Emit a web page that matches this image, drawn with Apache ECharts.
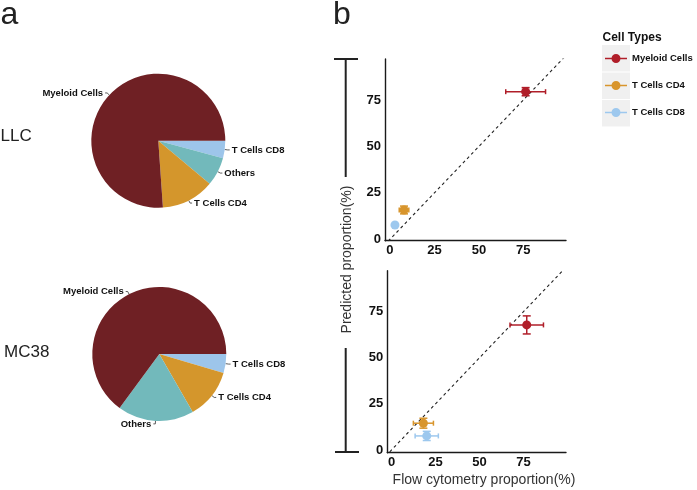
<!DOCTYPE html>
<html>
<head>
<meta charset="utf-8">
<script src="https://cdn.jsdelivr.net/npm/echarts@6/dist/echarts.min.js"></script>
<style>
  html, body { margin: 0; padding: 0; background: #fff; }
  #chart { width: 697px; height: 490px; }
</style>
</head>
<body>
<div id="chart"></div>
<script>
// ---- Panel a: pie data ----
const pieCategoriesLLC = ['T Cells CD8', 'Others', 'T Cells CD4', 'Myeloid Cells'];
const pieValuesLLC = [4.2, 6.9, 12.8, 76.1];
const pieCategoriesMC38 = ['T Cells CD8', 'T Cells CD4', 'Others', 'Myeloid Cells'];
const pieValuesMC38 = [4.6, 12.1, 18.4, 64.9];

// ---- Panel b: scatter data ----
const cellTypes = ['Myeloid Cells', 'T Cells CD4', 'T Cells CD8'];
const llcFlowX = [76.3, 7.9, 2.8];
const llcPredY = [79.5, 15.8, 7.7];
const llcXErr = [11.2, 2.7, 0];
const llcYErr = [2.2, 2.1, 0];
const mc38FlowX = [76.8, 18.1, 20.0];
const mc38PredY = [67.8, 14.5, 7.6];
const mc38XErr = [9.5, 5.7, 6.6];
const mc38YErr = [4.9, 2.7, 2.5];
const tickValues = [0, 25, 50, 75];
const diagonal = [-1, 99];

const FONT = 'Liberation Sans, Arial, Helvetica, sans-serif';
const pieColors = {
  'Myeloid Cells': '#6F2024',
  'T Cells CD4': '#D4962C',
  'Others': '#72B9BB',
  'T Cells CD8': '#9DC5EA'
};
const pointColors = ['#B01E29', '#D8952C', '#9DC8EE'];

function pieSeries(cats, vals, center) {
  return {
    type: 'pie',
    center: center,
    radius: 67,
    startAngle: 0,
    clockwise: true,
    avoidLabelOverlap: false,
    silent: true,
    data: cats.map((c, i) => ({ name: c, value: vals[i], itemStyle: { color: pieColors[c] } })),
    label: {
      position: 'outside',
      fontSize: 9.5,
      fontWeight: 'bold',
      color: '#111',
      fontFamily: FONT,
      distanceToLabelLine: 2
    },
    labelLine: { show: true, length: 3, length2: 2, smooth: false, lineStyle: { color: '#333', width: 0.8 } },
    emphasis: { disabled: true }
  };
}

function errorRender(params, api) {
  const x = api.value(0), y = api.value(1), ex = api.value(2), ey = api.value(3);
  const color = api.visual('color');
  const children = [];
  const style = { stroke: color, lineWidth: 1.5, fill: null };
  if (ex > 0) {
    const l = api.coord([x - ex, y]);
    const r = api.coord([x + ex, y]);
    children.push({ type: 'line', shape: { x1: l[0], y1: l[1], x2: r[0], y2: r[1] }, style });
    children.push({ type: 'line', shape: { x1: l[0], y1: l[1] - 2.5, x2: l[0], y2: l[1] + 2.5 }, style });
    children.push({ type: 'line', shape: { x1: r[0], y1: r[1] - 2.5, x2: r[0], y2: r[1] + 2.5 }, style });
  }
  if (ey > 0) {
    const t = api.coord([x, y + ey]);
    const b = api.coord([x, y - ey]);
    children.push({ type: 'line', shape: { x1: t[0], y1: t[1], x2: b[0], y2: b[1] }, style });
    children.push({ type: 'line', shape: { x1: t[0] - 4, y1: t[1], x2: t[0] + 4, y2: t[1] }, style });
    children.push({ type: 'line', shape: { x1: b[0] - 4, y1: b[1], x2: b[0] + 4, y2: b[1] }, style });
  }
  return { type: 'group', children };
}

const series = [
  pieSeries(pieCategoriesLLC, pieValuesLLC, [158.3, 140.7]),
  pieSeries(pieCategoriesMC38, pieValuesMC38, [159.3, 354])
];

// scatter points first (legend takes style from first series by name)
[[llcFlowX, llcPredY, 0], [mc38FlowX, mc38PredY, 1]].forEach(([xs, ys, g]) => {
  cellTypes.forEach((name, i) => {
    series.push({
      type: 'scatter', name, xAxisIndex: g, yAxisIndex: g,
      symbol: 'circle', symbolSize: 9, z: 5, silent: true,
      itemStyle: { color: pointColors[i], opacity: 1 },
      data: [[xs[i], ys[i]]]
    });
  });
});
[[llcFlowX, llcPredY, llcXErr, llcYErr, 0], [mc38FlowX, mc38PredY, mc38XErr, mc38YErr, 1]].forEach(([xs, ys, exs, eys, g]) => {
  cellTypes.forEach((name, i) => {
    series.push({
      type: 'custom', name, xAxisIndex: g, yAxisIndex: g, z: 4, silent: true,
      itemStyle: { color: pointColors[i] },
      renderItem: errorRender,
      encode: { x: 0, y: 1 },
      data: [[xs[i], ys[i], exs[i], eys[i]]]
    });
  });
});
[0, 1].forEach(g => {
  series.push({
    type: 'line', xAxisIndex: g, yAxisIndex: g, silent: true, symbol: 'none', z: 3,
    lineStyle: { color: '#222', width: 1.1, type: [3, 3] },
    data: [[diagonal[0], diagonal[0]], [diagonal[1], diagonal[1]]]
  });
});

function valueAxis(g, min, max, isX) {
  return {
    type: 'value', gridIndex: g, min, max,
    axisLine: { show: true, onZero: false, lineStyle: { color: '#1a1a1a', width: 1.4 } },
    axisTick: { show: false },
    splitLine: { show: false },
    axisLabel: {
      customValues: tickValues,
      fontSize: 13, fontWeight: 'bold', color: '#111', fontFamily: FONT,
      margin: isX ? 3 : 4
    }
  };
}

const legendIcon = 'path://M0,4.2H7V5.8H0Z M15,4.2H22V5.8H15Z M6.5,5A4.5,4.5 0 1,1 15.5,5A4.5,4.5 0 1,1 6.5,5Z';

const graphic = [
  { type: 'text', x: 0.5, y: 15.5, style: { text: 'a', font: '32px ' + FONT, fill: '#222', verticalAlign: 'middle' } },
  { type: 'text', x: 333, y: 15.5, style: { text: 'b', font: '32px ' + FONT, fill: '#222', verticalAlign: 'middle' } },
  { type: 'text', x: 0.5, y: 136.2, style: { text: 'LLC', font: '17px ' + FONT, fill: '#222', verticalAlign: 'middle' } },
  { type: 'text', x: 4, y: 352.3, style: { text: 'MC38', font: '17px ' + FONT, fill: '#222', verticalAlign: 'middle' } },
  // y-axis bracket
  { type: 'line', shape: { x1: 345.7, y1: 59, x2: 345.7, y2: 177 }, style: { stroke: '#222', lineWidth: 2 } },
  { type: 'line', shape: { x1: 345.7, y1: 348, x2: 345.7, y2: 452 }, style: { stroke: '#222', lineWidth: 2 } },
  { type: 'line', shape: { x1: 334, y1: 59, x2: 358, y2: 59 }, style: { stroke: '#222', lineWidth: 2 } },
  { type: 'line', shape: { x1: 335, y1: 452, x2: 359, y2: 452 }, style: { stroke: '#222', lineWidth: 2 } },
  { type: 'text', x: 347, y: 259.5, rotation: Math.PI / 2,
    style: { text: 'Predicted proportion(%)', font: '14px ' + FONT, fill: '#333', align: 'center', verticalAlign: 'middle' } },
  { type: 'text', x: 484, y: 480.5,
    style: { text: 'Flow cytometry proportion(%)', font: '14px ' + FONT, fill: '#333', align: 'center', verticalAlign: 'middle' } },
  // legend
  { type: 'text', x: 602.5, y: 37.8, style: { text: 'Cell Types', font: 'bold 12px ' + FONT, fill: '#111', verticalAlign: 'middle' } },
  { type: 'rect', shape: { x: 602, y: 45, width: 28, height: 26.5 }, style: { fill: '#F0F0F0' }, z: -1 },
  { type: 'rect', shape: { x: 602, y: 72.5, width: 28, height: 26.5 }, style: { fill: '#F0F0F0' }, z: -1 },
  { type: 'rect', shape: { x: 602, y: 100, width: 28, height: 26.5 }, style: { fill: '#F0F0F0' }, z: -1 }
];

const option = {
  backgroundColor: '#fff',
  animation: false,
  textStyle: { fontFamily: FONT },
  grid: [
    { left: 385, top: 59, width: 181, height: 181.7 },
    { left: 387.3, top: 270.7, width: 178.7, height: 182 }
  ],
  xAxis: [valueAxis(0, -2.8, 99, true), valueAxis(1, -2.4, 99.1, true)],
  yAxis: [valueAxis(0, -0.75, 97.1, false), valueAxis(1, -1.5, 97.2, false)],
  legend: {
    data: cellTypes.map(n => ({ name: n, icon: legendIcon })),
    orient: 'vertical', left: 600, top: 48.5, padding: 5,
    itemWidth: 22, itemHeight: 10, itemGap: 17,
    selectedMode: false,
    textStyle: { fontSize: 9.5, fontWeight: 'bold', color: '#111', fontFamily: FONT }
  },
  graphic,
  series
};

const chart = echarts.init(document.getElementById('chart'), null, { renderer: 'canvas' });
chart.setOption(option);
</script>
</body>
</html>
